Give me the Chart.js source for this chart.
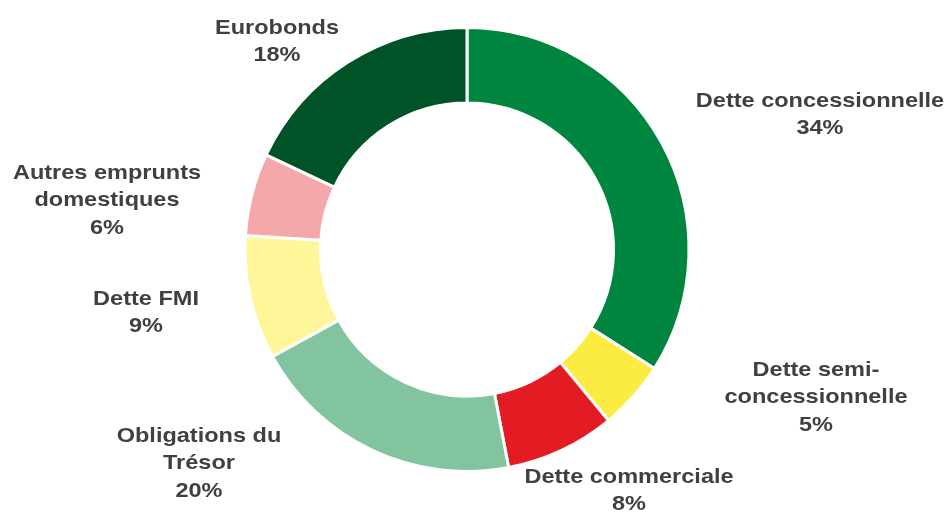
<!DOCTYPE html>
<html lang="fr">
<head>
    <meta charset="UTF-8">
    <title>Composition de la dette</title>
    <script src="https://cdn.jsdelivr.net/npm/chart.js@4.4.0/dist/chart.umd.min.js"></script>
    <style>
        * { margin: 0; padding: 0; box-sizing: border-box; }
        body { width: 952px; height: 514px; background: #fff; overflow: hidden; }
        #wrap { width: 952px; height: 514px; }
    </style>
</head>
<body>
    <div id="wrap"><canvas id="chart"></canvas></div>
    <script>
        // data
        const categories = [
            ['Dette concessionnelle'],
            ['Dette semi-', 'concessionnelle'],
            ['Dette commerciale'],
            ['Obligations du', 'Trésor'],
            ['Dette FMI'],
            ['Autres emprunts', 'domestiques'],
            ['Eurobonds']
        ]
        const shares = [34, 5, 8, 20, 9, 6, 18]
        const colors = ['#00853F', '#FCEC41', '#E31B23', '#82C4A0', '#FFF69A', '#F4A8AA', '#005326']

        // label block centres, relative to the doughnut centre
        const labelOffsets = [
            [353, -135], [349, 148], [162, 241], [-268, 214], [-321, 63], [-360, -49], [-190, -208]
        ]

        const labelPlugin = {
            id: 'outerLabels',
            afterDatasetsDraw(chart) {
                const ctx = chart.ctx
                const arcs = chart.getDatasetMeta(0).data
                const lineH = 27.3
                ctx.save()
                ctx.fillStyle = '#404040'
                ctx.font = 'bold 21px "Liberation Sans", Arial, sans-serif'
                ctx.textAlign = 'center'
                ctx.textBaseline = 'middle'
                arcs.forEach((arc, i) => {
                    const lines = categories[i].concat([shares[i] + '%'])
                    const cx = arc.x + labelOffsets[i][0]
                    const cy = arc.y + labelOffsets[i][1]
                    const top = cy - (lines.length - 1) * lineH / 2
                    lines.forEach((t, j) => {
                        ctx.save()
                        ctx.translate(cx, top + j * lineH)
                        ctx.scale(1.12, 1)
                        ctx.fillText(t, 0, 0)
                        ctx.restore()
                    })
                })
                ctx.restore()
            }
        }

        new Chart(document.getElementById('chart').getContext('2d'), {
            type: 'doughnut',
            data: {
                labels: categories.map(c => c.join(' ')),
                datasets: [{
                    data: shares,
                    backgroundColor: colors,
                    borderColor: '#ffffff',
                    borderWidth: 3
                }]
            },
            options: {
                responsive: true,
                maintainAspectRatio: false,
                animation: false,
                cutout: '66%',
                layout: { padding: { top: 26, bottom: 41, left: 0, right: 18 } },
                plugins: {
                    legend: { display: false },
                    tooltip: { enabled: false }
                }
            },
            plugins: [labelPlugin]
        })
    </script>
</body>
</html>
